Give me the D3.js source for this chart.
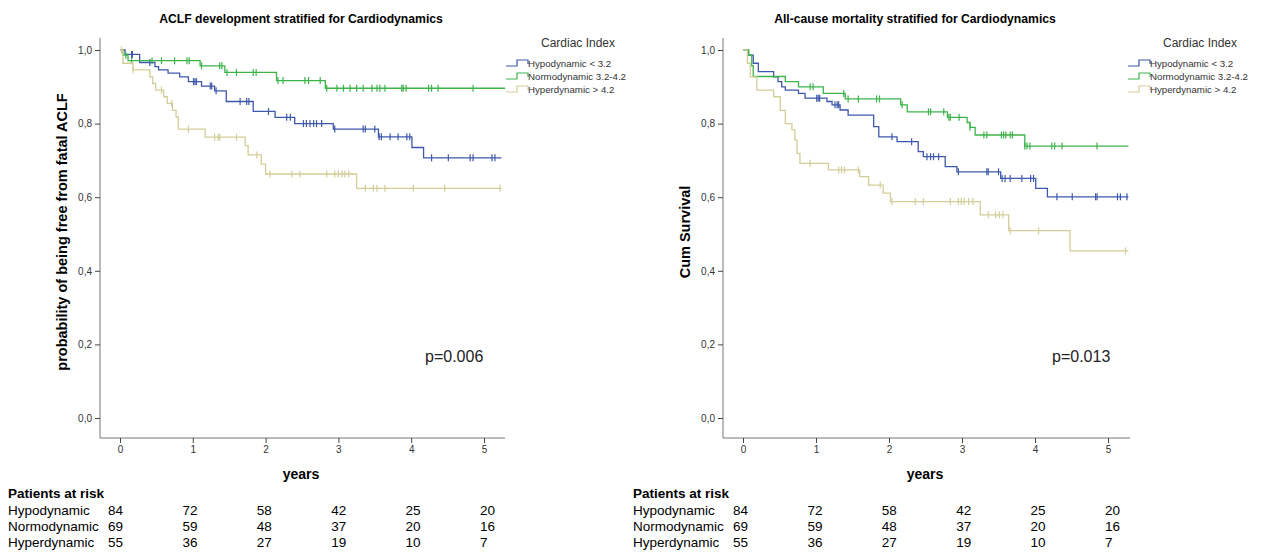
<!DOCTYPE html>
<html>
<head>
<meta charset="utf-8">
<script src="https://cdn.jsdelivr.net/npm/d3@7"></script>
<style>
  body { margin: 0; background: #fff; }
  svg { font-family: Arial, "Liberation Sans", sans-serif; }
</style>
</head>
<body>
<svg id="chart" width="1267" height="554"></svg>
<script>
// Chart data
//

var years = [0, 1, 2, 3, 4, 5];
var yTicks = [0, 0.2, 0.4, 0.6, 0.8, 1.0];
var legendLabels = ["Hypodynamic < 3.2", "Normodynamic 3.2-4.2", "Hyperdynamic > 4.2"];
var riskLabels = ["Hypodynamic", "Normodynamic", "Hyperdynamic"];
var colors = ["#3e58ac", "#3cb44a", "#d3cd97"];

// patients at risk (same in both panels)
var riskHypo = [84, 72, 58, 42, 25, 20];
var riskNormo = [69, 59, 48, 37, 20, 16];
var riskHyper = [55, 36, 27, 19, 10, 7];

// ACLF panel: [time, survival after step], end time, censored times
var aclfHypoSteps = [[0, 1], [0.07, 0.988], [0.27, 0.966], [0.48, 0.955], [0.53, 0.946], [0.66, 0.937],
  [0.82, 0.927], [0.94, 0.914], [1.12, 0.902], [1.30, 0.889], [1.46, 0.86], [1.83, 0.833],
  [2.13, 0.817], [2.40, 0.80], [2.93, 0.785], [3.55, 0.764], [4.01, 0.735], [4.17, 0.707]];
var aclfHypoEnd = 5.24;
var aclfHypoCensor = [0.16, 0.17, 0.41, 1.01, 1.03, 1.05, 1.24, 1.26, 1.32, 1.65, 1.74, 1.77, 2.04,
  2.29, 2.34, 2.52, 2.56, 2.61, 2.66, 2.70, 2.77, 2.95, 3.34, 3.37, 3.50, 3.56, 3.59, 3.71, 3.82,
  3.94, 3.98, 4.28, 4.51, 4.81, 4.85, 5.11, 5.15];

var aclfNormoSteps = [[0, 1], [0.04, 0.986], [0.11, 0.971], [1.10, 0.957], [1.44, 0.939],
  [2.15, 0.917], [2.82, 0.896]];
var aclfNormoEnd = 5.29;
var aclfNormoCensor = [0.08, 0.16, 0.44, 0.57, 0.75, 0.92, 0.95, 1.12, 1.37, 1.40, 1.47, 1.60, 1.83,
  1.87, 2.17, 2.24, 2.54, 2.59, 2.75, 2.84, 2.98, 3.07, 3.16, 3.25, 3.34, 3.46, 3.53, 3.57, 3.64,
  3.87, 3.89, 3.93, 4.24, 4.28, 4.37, 4.85];

var aclfHyperSteps = [[0, 1], [0.04, 0.964], [0.18, 0.946], [0.41, 0.927], [0.45, 0.909],
  [0.49, 0.891], [0.60, 0.873], [0.65, 0.855], [0.72, 0.836], [0.77, 0.818], [0.80, 0.785],
  [1.17, 0.763], [1.72, 0.74], [1.76, 0.715], [1.94, 0.69], [2.0, 0.663], [3.25, 0.624]];
var aclfHyperEnd = 5.24;
var aclfHyperCensor = [0.02, 0.18, 0.57, 0.71, 0.94, 1.30, 1.35, 1.37, 1.60, 1.88, 2.06, 2.36, 2.47,
  2.84, 2.95, 3.0, 3.05, 3.09, 3.14, 3.37, 3.48, 3.53, 3.64, 4.03, 4.46, 5.22];

// All-cause mortality panel
var mortHypoSteps = [[0, 1], [0.07, 0.986], [0.14, 0.964], [0.21, 0.941], [0.42, 0.927], [0.48, 0.914],
  [0.53, 0.90], [0.58, 0.891], [0.76, 0.882], [0.85, 0.869], [1.15, 0.86], [1.22, 0.851],
  [1.33, 0.837], [1.44, 0.823], [1.79, 0.792], [1.86, 0.764], [2.11, 0.751], [2.40, 0.724],
  [2.47, 0.71], [2.77, 0.683], [2.93, 0.669], [3.53, 0.651], [4.01, 0.624], [4.17, 0.601]];
var mortHypoEnd = 5.28;
var mortHypoCensor = [1.01, 1.03, 1.05, 1.26, 1.29, 1.31, 2.04, 2.31, 2.52, 2.57, 2.61, 2.68, 2.95,
  3.34, 3.36, 3.50, 3.55, 3.59, 3.66, 3.82, 3.94, 3.98, 4.30, 4.51, 4.83, 4.85, 5.13, 5.17, 5.26];

var mortNormoSteps = [[0, 1], [0.08, 0.986], [0.12, 0.957], [0.14, 0.928], [0.58, 0.914], [0.76, 0.90],
  [1.10, 0.882], [1.40, 0.867], [2.16, 0.851], [2.25, 0.832], [2.80, 0.817], [3.07, 0.803],
  [3.11, 0.79], [3.18, 0.769], [3.86, 0.739]];
var mortNormoEnd = 5.28;
var mortNormoCensor = [0.92, 0.96, 1.38, 1.44, 1.58, 1.83, 1.87, 2.18, 2.54, 2.57, 2.75, 2.82, 2.84,
  2.96, 3.11, 3.30, 3.34, 3.54, 3.57, 3.60, 3.66, 3.69, 3.86, 3.89, 3.93, 4.23, 4.27, 4.37, 4.85];

var mortHyperSteps = [[0, 1], [0.06, 0.964], [0.10, 0.927], [0.19, 0.891], [0.42, 0.873], [0.51, 0.836],
  [0.58, 0.80], [0.67, 0.783], [0.71, 0.755], [0.74, 0.719], [0.78, 0.692], [1.17, 0.674],
  [1.60, 0.656], [1.72, 0.633], [1.92, 0.611], [2.02, 0.588], [3.25, 0.552], [3.64, 0.509],
  [4.48, 0.454]];
var mortHyperEnd = 5.28;
var mortHyperCensor = [0.92, 1.31, 1.35, 1.39, 1.58, 1.88, 2.04, 2.36, 2.47, 2.84, 2.95, 2.99, 3.03,
  3.09, 3.15, 3.36, 3.46, 3.51, 3.56, 3.66, 4.05, 5.24];

// Helper functions
//

function survivalAt(steps, t) {
  // value of the step function at time t
  var s = steps[0][1];
  steps.forEach(function(p) { if (p[0] <= t) s = p[1]; });
  return s;
}

function fmtComma(d) {
  return d.toFixed(1).replace(".", ",");
}

var svg = d3.select("#chart");

function drawPanel(cfg) {
  var x = d3.scaleLinear().domain([0, 5]).range([cfg.x0, cfg.x5]);
  var y = d3.scaleLinear().domain([0, 1]).range([418, 50]);
  var tx = d3.scaleLinear().domain([0, 5]).range(cfg.tableRange);
  var g = svg.append("g");

  // title
  g.append("text")
    .attr("x", cfg.titleX).attr("y", 23)
    .attr("text-anchor", "middle")
    .style("font-size", "12.2px").style("font-weight", "bold")
    .text(cfg.title);

  // axes
  var yAxis = d3.axisLeft(y).tickValues(yTicks).tickFormat(fmtComma).tickSize(5).tickSizeOuter(0);
  var ya = g.append("g").attr("transform", "translate(" + cfg.axisLeft + ",0)").call(yAxis);
  ya.select(".domain").attr("d", "M0," + 438 + "V" + 38);
  var xAxis = d3.axisBottom(x).tickValues(years).tickFormat(d3.format("d")).tickSize(5).tickSizeOuter(0);
  var xa = g.append("g").attr("transform", "translate(0,438)").call(xAxis);
  xa.select(".domain").attr("d", "M" + cfg.axisLeft + ",0H" + cfg.axisRight);
  [ya, xa].forEach(function(a) {
    a.selectAll(".domain").attr("stroke", "#777");
    a.selectAll(".tick line").attr("stroke", "#444");
    a.selectAll(".tick text").attr("fill", "#333").style("font-size", "10px").style("font-family", "Arial, 'Liberation Sans', sans-serif");
  });

  // y label
  g.append("text")
    .attr("transform", "translate(" + cfg.yLabelX + ",232) rotate(-90)")
    .attr("text-anchor", "middle")
    .style("font-size", "14.5px").style("font-weight", "bold")
    .text(cfg.yLabel);

  // curves
  var line = d3.line()
    .x(function(d) { return x(d[0]); })
    .y(function(d) { return y(d[1]); })
    .curve(d3.curveStepAfter);

  cfg.series.forEach(function(s, i) {
    var pts = s.steps.concat([[s.end, s.steps[s.steps.length - 1][1]]]);
    g.append("path")
      .attr("d", line(pts))
      .attr("fill", "none")
      .attr("stroke", colors[i])
      .attr("stroke-width", 1.3);
    g.selectAll(null)
      .data(s.censor)
      .enter()
      .append("line")
      .attr("x1", function(d) { return x(d); })
      .attr("x2", function(d) { return x(d); })
      .attr("y1", function(d) { return y(survivalAt(s.steps, d)) - 3.5; })
      .attr("y2", function(d) { return y(survivalAt(s.steps, d)) + 3.5; })
      .attr("stroke", colors[i])
      .attr("stroke-width", 1.2);
  });

  // p value
  g.append("text")
    .attr("x", cfg.pX).attr("y", 362)
    .style("font-size", "16px").attr("fill", "#222")
    .text(cfg.pText);

  // legend
  g.append("text")
    .attr("x", cfg.legendX + 50).attr("y", 47)
    .attr("text-anchor", "middle")
    .style("font-size", "12px").attr("fill", "#333")
    .text("Cardiac Index");
  legendLabels.forEach(function(l, i) {
    var ly = 63 + i * 13;
    var lx = cfg.legendX;
    g.append("path")
      .attr("d", "M" + (lx - 22) + "," + (ly + 3) + "H" + (lx - 11) + "V" + (ly - 3) + "H" + lx + "V" + (ly + 1))
      .attr("fill", "none").attr("stroke", colors[i]).attr("stroke-width", 1.2);
    g.append("text")
      .attr("x", lx).attr("y", ly + 3.5)
      .style("font-size", "9.7px").attr("fill", "#333")
      .text(l);
  });

  // x label
  g.append("text")
    .attr("x", cfg.yearsX).attr("y", 479)
    .attr("text-anchor", "middle")
    .style("font-size", "14px").style("font-weight", "bold")
    .text("years");

  // patients at risk table
  g.append("text")
    .attr("x", cfg.tableLeft).attr("y", 498)
    .style("font-size", "13.5px").style("font-weight", "bold")
    .text("Patients at risk");
  [riskHypo, riskNormo, riskHyper].forEach(function(row, r) {
    var ry = 515 + r * 16;
    g.append("text")
      .attr("x", cfg.tableLeft).attr("y", ry)
      .style("font-size", "13.5px")
      .text(riskLabels[r]);
    g.selectAll(null)
      .data(row)
      .enter()
      .append("text")
      .attr("x", function(d, j) { return tx(years[j]); })
      .attr("y", ry)
      .style("font-size", "13.5px")
      .text(function(d) { return d; });
  });
}

drawPanel({
  title: "ACLF development stratified for Cardiodynamics", titleX: 301,
  x0: 120, x5: 484, axisLeft: 100, axisRight: 505,
  yLabel: "probability of being free from fatal ACLF", yLabelX: 67,
  pX: 425, pText: "p=0.006",
  legendX: 528, yearsX: 301, tableLeft: 8, tableRange: [108, 480],
  series: [
    { steps: aclfHypoSteps, end: aclfHypoEnd, censor: aclfHypoCensor },
    { steps: aclfNormoSteps, end: aclfNormoEnd, censor: aclfNormoCensor },
    { steps: aclfHyperSteps, end: aclfHyperEnd, censor: aclfHyperCensor }
  ]
});

drawPanel({
  title: "All-cause mortality stratified for Cardiodynamics", titleX: 915,
  x0: 743, x5: 1108, axisLeft: 723, axisRight: 1130,
  yLabel: "Cum Survival", yLabelX: 690,
  pX: 1052, pText: "p=0.013",
  legendX: 1150, yearsX: 925, tableLeft: 633, tableRange: [733, 1105],
  series: [
    { steps: mortHypoSteps, end: mortHypoEnd, censor: mortHypoCensor },
    { steps: mortNormoSteps, end: mortNormoEnd, censor: mortNormoCensor },
    { steps: mortHyperSteps, end: mortHyperEnd, censor: mortHyperCensor }
  ]
});
</script>
</body>
</html>
